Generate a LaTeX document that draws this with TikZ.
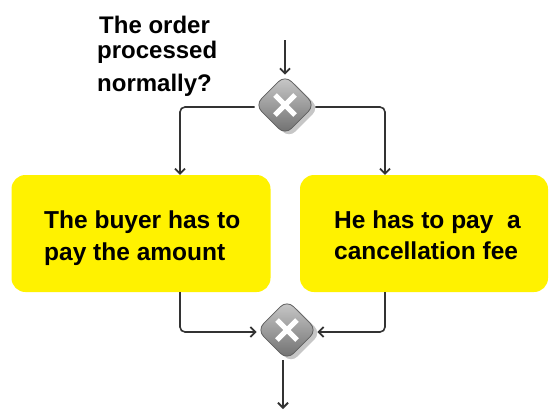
\documentclass[tikz,border=0pt]{standalone}
\usepackage{fontspec}
\setmainfont{Liberation Sans}
\usetikzlibrary{arrows.meta,shapes.geometric,calc}
\begin{document}
\begin{tikzpicture}[x=1pt,y=-1pt,
  task/.style={fill=yellow, draw=none, rounded corners=14pt, minimum height=117pt, inner sep=0pt},
  tasktext/.style={anchor=base west, inner sep=0pt, font=\fontsize{24.5}{32}\selectfont\bfseries},
  lbltext/.style={anchor=base west, inner sep=0pt, font=\fontsize{24}{28}\selectfont\bfseries},
  gw/.style={diamond, minimum width=60pt, minimum height=60pt, inner sep=0pt, rounded corners=9pt, top color=gray!40, bottom color=gray!85!black, draw=gray!75!black, line width=0.8pt},
  gwshadow/.style={diamond, minimum width=60pt, minimum height=60pt, inner sep=0pt, rounded corners=9pt, fill=gray!45},
  xmark/.style={white, line width=5pt},
  flow/.style={line width=1.6pt, black!80, rounded corners=5pt, -{Straight Barb[length=5pt,width=10pt,line width=1.8pt]}}]
\useasboundingbox (0,0) rectangle (549,410);
\fill[white] (0,0) rectangle (549,410);
% gateways
\node[gwshadow] (s1) at (289,108) {};
\node[gw] (g1) at (285,105) {};
\draw[xmark] ($(g1)+(-10,-10)$) -- ($(g1)+(10,10)$) ($(g1)+(10,-10)$) -- ($(g1)+(-10,10)$);
\node[gwshadow] (s2) at (291,333) {};
\node[gw] (g2) at (287,330) {};
\draw[xmark] ($(g2)+(-10,-10)$) -- ($(g2)+(10,10)$) ($(g2)+(10,-10)$) -- ($(g2)+(-10,10)$);
% tasks
\node[task, minimum width=259pt] (t1) at (141,233.5) {};
\node[tasktext] (t1a) at (44,228) {The buyer has to};
\node[tasktext] (t1b) at (44,260) {pay the amount};
\node[task, minimum width=248pt] (t2) at (424,233.5) {};
\node[tasktext] (t2a) at (334,228) {He has to pay\ \ a};
\node[tasktext] (t2b) at (334,259) {cancellation fee};
% label
\node[lbltext] (l1) at (99,33) {The order};
\node[lbltext] (l2) at (97,58) {processed};
\node[lbltext] (l3) at (97,91) {normally?};
% connectors
\coordinate (in) at (285,40);
\coordinate (out) at (283,409);
\coordinate (lx) at (180,0);
\coordinate (rx) at (385,0);
\draw[flow] (in) -- (g1.north);
\draw[flow] ($(g1.west)+(0,2)$) -| (t1.north -| lx);
\draw[flow] ($(g1.east)+(0,2)$) -| (t2.north -| rx);
\draw[flow] (t1.south -| lx) |- ($(g2.west)+(0,2)$);
\draw[flow] (t2.south -| rx) |- ($(g2.east)+(0,2)$);
\draw[flow] (g2.south -| out) -- (out);
\end{tikzpicture}
\end{document}
